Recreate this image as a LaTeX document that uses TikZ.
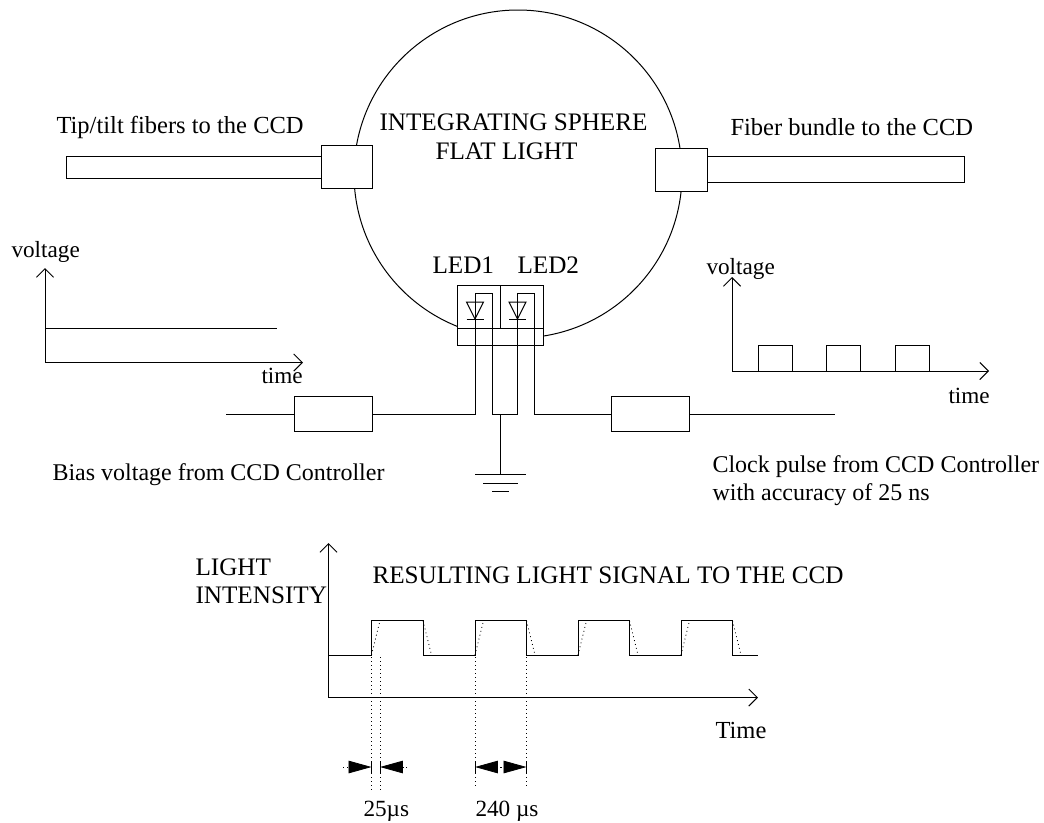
\documentclass[tikz,border=0pt]{standalone}
\usepackage{fontspec}
\setmainfont{Liberation Serif}
\usepackage{tikz}
\usetikzlibrary{positioning, arrows.meta}
\tikzset{
  lbl/.style={anchor=base west, inner sep=0pt, font=\fontsize{18.4}{21}\selectfont},
  capslbl/.style={lbl, font=\fontsize{18.9}{21}\selectfont},
  longlbl/.style={lbl, font=\fontsize{18}{21}\selectfont},
  smalllbl/.style={lbl, font=\fontsize{17.4}{21}\selectfont},
  boxed/.style={draw, fill=white, inner sep=0pt, outer sep=0pt},
  axes/.style={{Straight Barb[length=6.4pt,width=12.8pt]}-{Straight Barb[length=6.4pt,width=12.8pt]}},
  dots/.style={line width=0.6pt, dash pattern=on 0.7pt off 2.3pt},
  dimtip/.style={dots, -{Triangle[length=17.2pt,width=9.4pt]}}
}
\begin{document}
\begin{tikzpicture}[x=0.75pt, y=-0.75pt, line width=0.75pt]
        \useasboundingbox (0,0) rectangle (1044,822);
        \node[circle, draw, inner sep=0pt, minimum size=246pt] (sphere) at (518,174) {};
        \node[boxed, minimum width=38.6pt, minimum height=32.25pt] (portl) at (346.75,166.5) {};
        \node[boxed, minimum width=39pt, minimum height=32.25pt] (portr) at (681,169.5) {};
        \node[boxed, minimum width=190.9pt, minimum height=16.5pt, left=0pt of portl, yshift=-0.75pt] (fiberl) {};
        \node[boxed, minimum width=193.1pt, minimum height=19.5pt, right=0pt of portr] (fiberr) {};
        \node[lbl] (tiplabel) at (56,133) {Tip/tilt fibers to the CCD};
        \node[lbl] (fiberlabel) at (730,135) {Fiber bundle to the CCD};
        \node[capslbl] (spherelabel) at (379,130) {INTEGRATING SPHERE};
        \node[capslbl] (flatlabel) at (435,159) {FLAT LIGHT};

        \node[boxed, minimum width=32.25pt, minimum height=32.6pt] (ledone) at (479,306.75) {};
        \node[boxed, minimum width=32.25pt, minimum height=32.6pt, right=0pt of ledone] (ledtwo) {};
        \node[boxed, minimum width=64.5pt, minimum height=12.4pt, below=0pt of ledone.south west, anchor=north west] (ledbase) {};
        \node[capslbl] (ledonelabel) at (432,273) {LED1};
        \node[capslbl] (ledtwolabel) at (517,273) {LED2};
        \foreach \x in {475,517.5} {
          \draw (\x-8.5,302) -- (\x+8.5,302) -- (\x,319) -- cycle;
          \draw (\x-8.5,319) -- (\x+8.5,319);
        }

        \node[boxed, minimum width=58.5pt, minimum height=25.9pt] (resl) at (333,414) {};
        \node[boxed, minimum width=58.5pt, minimum height=25.9pt] (resr) at (650,414) {};
        \coordinate (wirel) at (226,414);
        \coordinate (wirer) at (835,414);
        \coordinate (topa) at (475,293.5);
        \coordinate (topb) at (492,293.5);
        \coordinate (topc) at (517.5,293.5);
        \coordinate (topd) at (534.5,293.5);
        \coordinate (gnd) at (500.5,414);
        \coordinate (gndbar) at (500.5,474);
        \draw (wirel) -- (resl.west);
        \draw (resr.east) -- (wirer);
        \draw (resl.east) -| (topa) -- (topb) |- (gnd) -| (topc) -- (topd) |- (resr.west);
        \draw (gnd) -- (gndbar);
        \draw (475,474) -- (526,474);
        \draw (483,483) -- (517.5,483);
        \draw (492,491) -- (509,491);
        \node[longlbl] (biaslabel) at (52,480) {Bias voltage from CCD Controller};
        \node[longlbl, align=left] (clocklabel) at (712,500.5) {Clock pulse from CCD Controller\\with accuracy of 25 ns};

        \draw[axes] (45,268) |- (303,362.5);
        \draw (45,328) -- (277,328);
        \node[smalllbl] (voltl) at (11,257) {voltage};
        \node[smalllbl] (timel) at (261,383) {time};

        \draw[axes] (732,277) |- (989,371);
        \foreach \x in {758,826,895}
          \draw (\x,371) -- (\x,345) -- (\x+34,345) -- (\x+34,371);
        \node[smalllbl] (voltr) at (706,274) {voltage};
        \node[smalllbl] (timer) at (948,403) {time};

        \draw[axes] (328.5,543) |- (758,697.5);
        \draw (328.5,655) foreach \x in {371.5,475,578,681} {
          -- (\x,655) -- (\x,620.7) -- (\x+51.5,620.7) -- (\x+51.5,655)} -- (758,655);
        \foreach \x in {371.5,475,578,681} {
          \draw[dots] (\x,655) -- (\x+8.5,620.7);
          \draw[dots] (\x+51.5,620.7) -- (\x+60,655);
        }
        \node[capslbl, align=left] (intensity) at (195,603) {LIGHT\\INTENSITY};
        \node[capslbl] (signallabel) at (372,583) {RESULTING LIGHT SIGNAL TO THE CCD};
        \node[lbl] (timelabel) at (715,738) {Time};

        \foreach \x/\yend in {371.5/790,380/790,475/786,526.5/786}
          \draw[dots] (\x,657) -- (\x,\yend);
        \foreach \x in {371.5,380,475,526.5}
          \draw (\x,761) -- (\x,773);
        \draw[dimtip] (343,767) -- (371.5,767);
        \draw[dimtip] (407,767) -- (380,767);
        \draw[dimtip] (500.5,767) -- (475,767);
        \draw[dimtip] (500.5,767) -- (526.5,767);
        \node[smalllbl] (shortlabel) at (363,816) {25µs};
        \node[smalllbl] (longlabel) at (475,816) {240 µs};
      \end{tikzpicture}
\end{document}
